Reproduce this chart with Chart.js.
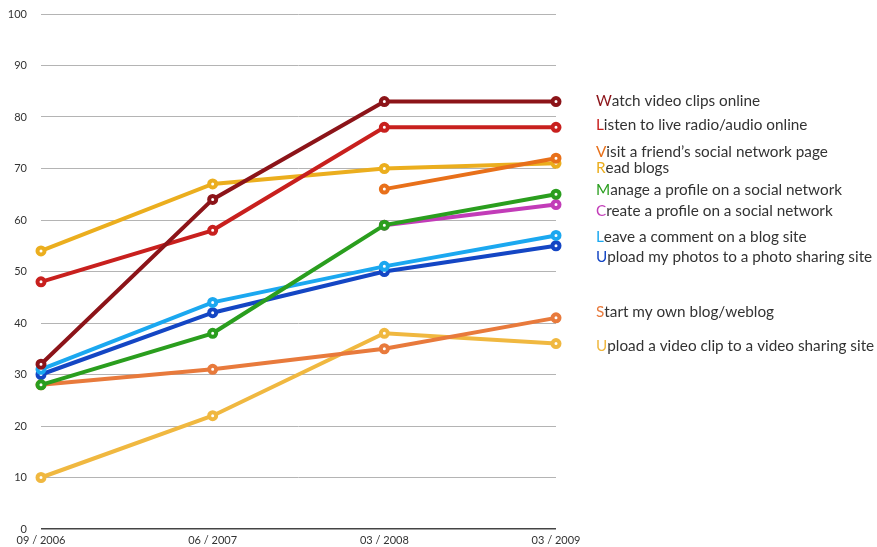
<!DOCTYPE html>
<html>
<head>
<meta charset="utf-8">
<script src="https://cdn.jsdelivr.net/npm/chart.js@4"></script>
<style>
    html, body { margin: 0; padding: 0; background: #fff; }
    #wrap { width: 877px; height: 547px; position: relative; }
</style>
</head>
<body>
<div id="wrap"><canvas id="chart"></canvas></div>
<script>
// 데이터
const periods = ["09 / 2006", "06 / 2007", "03 / 2008", "03 / 2009"];
const seriesNames = [
    "Watch video clips online",
    "Listen to live radio/audio online",
    "Visit a friend\u2019s social network page",
    "Read blogs",
    "Manage a profile on a social network",
    "Create a profile on a social network",
    "Leave a comment on a blog site",
    "Upload my photos to a photo sharing site",
    "Start my own blog/weblog",
    "Upload a video clip to a video sharing site",
];
const watchVideo = [32, 64, 83, 83];
const listenRadio = [48, 58, 78, 78];
const visitFriend = [null, null, 66, 72];
const readBlogs = [54, 67, 70, 71];
const manageProfile = [28, 38, 59, 65];
const createProfile = [null, null, 59, 63];
const leaveComment = [31, 44, 51, 57];
const uploadPhotos = [30, 42, 50, 55];
const startBlog = [28, 31, 35, 41];
const uploadVideo = [10, 22, 38, 36];
const yTicks = [0, 10, 20, 30, 40, 50, 60, 70, 80, 90, 100];

const seriesValues = [watchVideo, listenRadio, visitFriend, readBlogs, manageProfile,
    createProfile, leaveComment, uploadPhotos, startBlog, uploadVideo];
const colors = ["#8c1419", "#c8201e", "#e8701a", "#ebae1e", "#2a9e1e",
    "#c23cb8", "#1ba8f0", "#1446c4", "#e87a3c", "#f0b840"];

// 범례 위치 (픽셀 y)
const labelY = [101, 125, 152, 168, 190, 211, 237, 257, 312, 346];

const sideLabels = {
    id: "sideLabels",
    afterDraw(chart) {
        const ctx = chart.ctx;
        ctx.save();
        ctx.font = "15.3px Lato";
        ctx.textBaseline = "middle";
        seriesNames.forEach((name, i) => {
            const x = 596;
            ctx.fillStyle = colors[i];
            ctx.fillText(name[0], x, labelY[i]);
            const w = ctx.measureText(name[0]).width;
            ctx.fillStyle = "#333";
            ctx.fillText(name.slice(1), x + w, labelY[i]);
        });
        ctx.restore();
    },
};

const ctx = document.getElementById("chart").getContext("2d");
new Chart(ctx, {
    type: "line",
    data: {
        labels: periods,
        datasets: seriesNames.map((name, i) => ({
            label: name,
            data: seriesValues[i],
            borderColor: colors[i],
            backgroundColor: "#fff",
            borderWidth: 4,
            pointRadius: 3.5,
            pointBorderWidth: 4,
            pointBackgroundColor: "#fff",
            pointBorderColor: colors[i],
            spanGaps: false,
            fill: false,
        })),
    },
    options: {
        responsive: true,
        maintainAspectRatio: false,
        animation: false,
        layout: { padding: { top: 14, right: 321, bottom: 0, left: 0 } },
        plugins: {
            legend: { display: false },
            tooltip: { enabled: false },
        },
        scales: {
            x: {
                grid: { display: false, drawTicks: false },
                border: { display: false },
                afterFit: (s) => { s.height = 18; s.paddingLeft = 0; s.paddingRight = 0; },
                ticks: {
                    maxRotation: 0,
                    autoSkip: false,
                    padding: 5,
                    color: "#333",
                    font: { family: "Lato", size: 11 },
                },
            },
            y: {
                min: 0,
                max: 100,
                afterFit: (s) => { s.width = 41; s.paddingTop = 0; s.paddingBottom = 0; },
                afterBuildTicks: (s) => { s.ticks = yTicks.map((v) => ({ value: v })); },
                border: { display: false },
                grid: {
                    drawTicks: false,
                    color: (c) => (c.tick && c.tick.value === 0 ? "#444" : "#b4b4b4"),
                    lineWidth: (c) => (c.tick && c.tick.value === 0 ? 1.5 : 1),
                },
                ticks: {
                    padding: 14,
                    color: "#333",
                    font: { family: "Lato", size: 11 },
                },
            },
        },
    },
    plugins: [sideLabels],
});
</script>
</body>
</html>
